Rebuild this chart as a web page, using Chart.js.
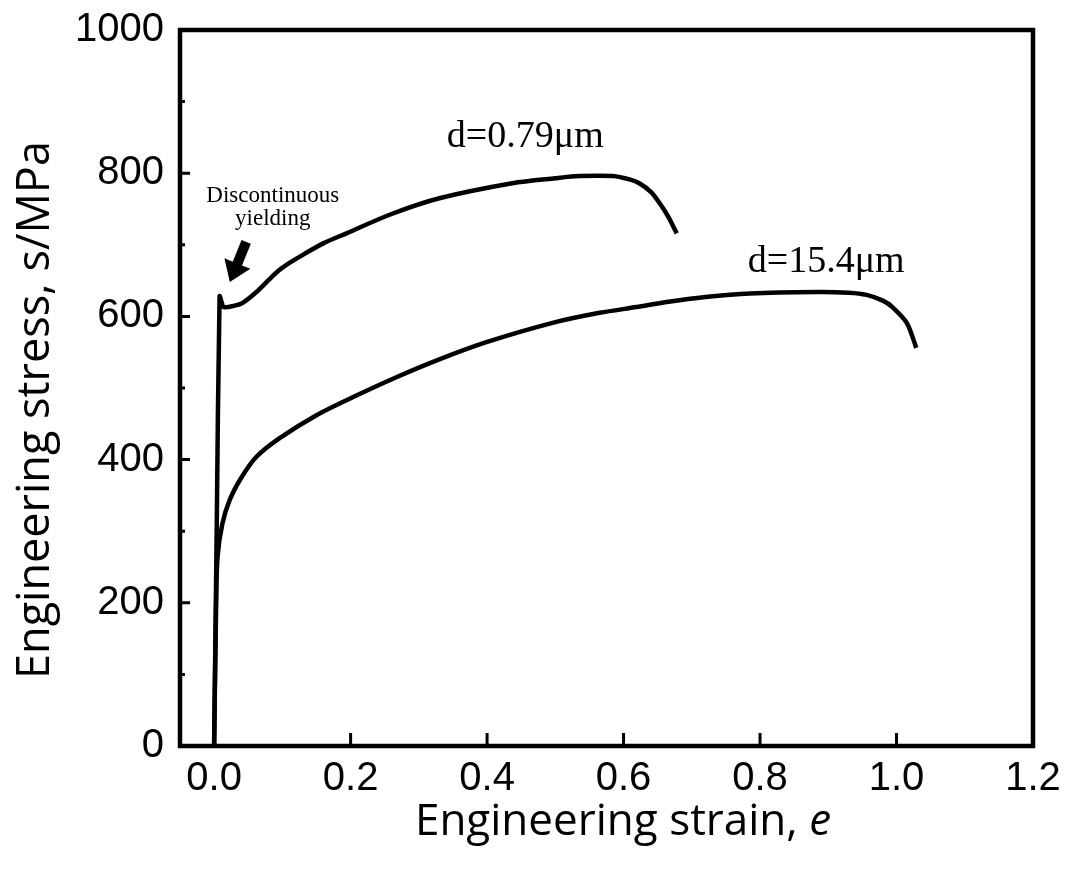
<!DOCTYPE html>
<html><head><meta charset="utf-8">
<script src="https://cdn.jsdelivr.net/npm/chart.js@4/dist/chart.umd.min.js"></script>
<style>html,body{margin:0;padding:0;background:#fff}#wrap{width:1072px;height:878px;position:relative}</style>
</head><body><div id="wrap"><canvas id="c"></canvas></div>
<script>
// Grain size d = 0.79 µm
const fineStrain = [0, 0.004, 0.008, 0.011, 0.014, 0.03, 0.042, 0.062, 0.08, 0.096, 0.111, 0.13, 0.16, 0.194, 0.26, 0.33, 0.437, 0.5, 0.535, 0.584, 0.61, 0.623, 0.64, 0.653, 0.665, 0.678];
const fineStress = [0, 320, 628, 620, 613, 615, 619, 634, 651, 665, 675, 686, 702, 716, 743, 765, 786, 793, 796, 796, 791, 786, 774, 758, 740, 716];
// Grain size d = 15.4 µm
const coarseStrain = [0, 0.003, 0.005, 0.012, 0.023, 0.04, 0.062, 0.096, 0.15, 0.203, 0.267, 0.33, 0.399, 0.496, 0.565, 0.619, 0.663, 0.72, 0.785, 0.883, 0.93, 0.956, 0.98, 0.994, 1.015, 1.029];
const coarseStress = [0, 200, 264, 310, 344, 375, 404, 430, 462, 487, 515, 540, 564, 591, 605, 613, 620, 627, 632, 634, 633, 630, 622, 613, 591, 556];
const xTickValues = [0, 0.2, 0.4, 0.6, 0.8, 1.0, 1.2];
const yTickValues = [0, 200, 400, 600, 800, 1000];
const yMinorValues = [100, 300, 500, 700, 900];
const seriesLabels = ['d=0.79\u03bcm', 'd=15.4\u03bcm'];
const xTitle = 'Engineering strain, ';
const xTitleItalic = 'e';
const yTitle = 'Engineering stress, s/MPa';
const annoText = ['Discontinuous', 'yielding'];

const toPts = (xs, ys) => xs.map((x, i) => ({x, y: ys[i]}));

const decor = {
  id: 'decor',
  afterDraw(chart) {
    const {ctx, chartArea: a, scales: {x, y}} = chart;
    ctx.save();
    ctx.strokeStyle = '#000';
    ctx.fillStyle = '#000';
    // frame
    ctx.lineWidth = 4.5;
    ctx.strokeRect(a.left, a.top, a.right - a.left, a.bottom - a.top);
    // ticks
    ctx.lineWidth = 3;
    ctx.beginPath();
    xTickValues.forEach(v => {
      const px = x.getPixelForValue(v);
      if (px > a.left + 3 && px < a.right - 3) { ctx.moveTo(px, a.bottom); ctx.lineTo(px, a.bottom - 13); }
    });
    yTickValues.forEach(v => {
      const py = y.getPixelForValue(v);
      if (py > a.top + 3 && py < a.bottom - 3) { ctx.moveTo(a.left, py); ctx.lineTo(a.left + 10, py); }
    });
    yMinorValues.forEach(v => {
      const py = y.getPixelForValue(v);
      ctx.moveTo(a.left, py); ctx.lineTo(a.left + 5, py);
    });
    ctx.stroke();
    // axis titles
    ctx.textBaseline = 'middle';
    ctx.font = '44px "Open Sans"';
    const w1 = ctx.measureText(xTitle).width;
    ctx.font = 'italic 44px "Open Sans"';
    const w2 = ctx.measureText(xTitleItalic).width;
    const cx = 623, cy = 822;
    let sx = cx - (w1 + w2) / 2;
    ctx.textAlign = 'left';
    ctx.font = '44px "Open Sans"';
    ctx.fillText(xTitle, sx, cy);
    ctx.font = 'italic 44px "Open Sans"';
    ctx.fillText(xTitleItalic, sx + w1, cy);
    ctx.save();
    ctx.translate(36, 410);
    ctx.rotate(-Math.PI / 2);
    ctx.textAlign = 'center';
    ctx.font = '45px "Open Sans"';
    ctx.fillText(yTitle, 0, 0);
    ctx.restore();
    // annotations
    ctx.textAlign = 'center';
    ctx.textBaseline = 'alphabetic';
    ctx.font = '38px "Liberation Serif"';
    ctx.fillText(seriesLabels[0], x.getPixelForValue(0.456), y.getPixelForValue(837));
    ctx.fillText(seriesLabels[1], x.getPixelForValue(0.897), y.getPixelForValue(662));
    ctx.font = '23px "Liberation Serif"';
    ctx.fillText(annoText[0], x.getPixelForValue(0.086), y.getPixelForValue(760));
    ctx.fillText(annoText[1], x.getPixelForValue(0.086), y.getPixelForValue(728));
    // arrow
    const tx = x.getPixelForValue(0.047), ty = y.getPixelForValue(704);
    const hx = x.getPixelForValue(0.023), hy = y.getPixelForValue(648);
    const ang = Math.atan2(hy - ty, hx - tx);
    const len = Math.hypot(hx - tx, hy - ty);
    ctx.save();
    ctx.translate(tx, ty);
    ctx.rotate(ang);
    const sw = 5, hl = 20, hw = 14;
    ctx.beginPath();
    ctx.moveTo(0, -sw); ctx.lineTo(len - hl, -sw); ctx.lineTo(len - hl, -hw);
    ctx.lineTo(len, 0);
    ctx.lineTo(len - hl, hw); ctx.lineTo(len - hl, sw); ctx.lineTo(0, sw);
    ctx.closePath();
    ctx.fill();
    ctx.restore();
    ctx.restore();
  }
};

new Chart(document.getElementById('c'), {
  type: 'scatter',
  data: {
    datasets: [
      {label: seriesLabels[0], data: toPts(fineStrain, fineStress), showLine: true, borderColor: '#000', borderWidth: 4.5, pointRadius: 0, tension: 0.3, fill: false},
      {label: seriesLabels[1], data: toPts(coarseStrain, coarseStress), showLine: true, borderColor: '#000', borderWidth: 4.5, pointRadius: 0, tension: 0.3, fill: false}
    ]
  },
  options: {
    responsive: true,
    maintainAspectRatio: false,
    animation: false,
    layout: {padding: {top: 30, right: 39, left: 0, bottom: 0}},
    plugins: {legend: {display: false}, tooltip: {enabled: false}},
    scales: {
      x: {
        type: 'linear', min: -0.05, max: 1.2,
        afterBuildTicks: s => { s.ticks = xTickValues.map(v => ({value: v})); },
        afterFit: s => { s.height = 132; s.paddingLeft = 0; s.paddingRight = 0; },
        grid: {display: false, drawTicks: false},
        border: {display: false},
        ticks: {color: '#000', font: {family: '"Liberation Sans", Arial', size: 40}, padding: 9, maxRotation: 0,
          callback: v => Number(v).toFixed(1)}
      },
      y: {
        type: 'linear', min: 0, max: 1000,
        afterBuildTicks: s => { s.ticks = yTickValues.map(v => ({value: v})); },
        afterFit: s => { s.width = 180; s.paddingTop = 0; s.paddingBottom = 0; },
        grid: {display: false, drawTicks: false},
        border: {display: false},
        ticks: {color: '#000', font: {family: '"Liberation Sans", Arial', size: 40}, padding: 16,
          callback: v => String(v)}
      }
    }
  },
  plugins: [decor]
});
</script></body></html>
